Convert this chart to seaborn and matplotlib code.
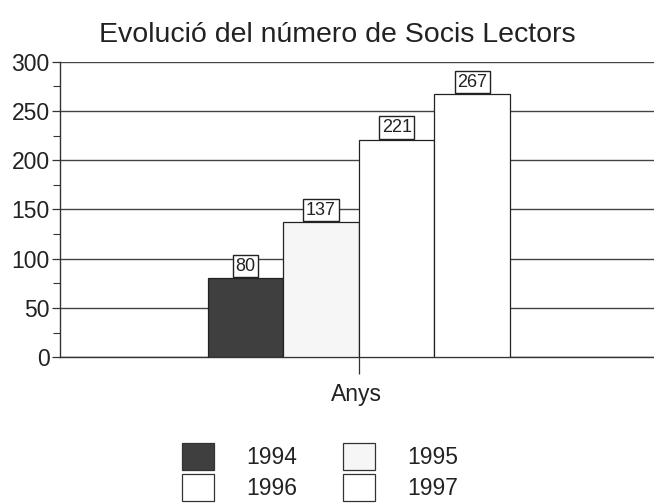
import matplotlib
matplotlib.use("Agg")
import matplotlib.pyplot as plt
import seaborn as sns
import pandas as pd
from matplotlib.ticker import MultipleLocator

# Data
years = ["1994", "1995", "1996", "1997"]
members = [80, 137, 221, 267]
category = ["Anys"] * 4
title = "Evolució del número de Socis Lectors"
xlabel = "Anys"
yticks = [0, 50, 100, 150, 200, 250, 300]

colors = ["#3f3f3f", "#f6f6f6", "#ffffff", "#ffffff"]

df = pd.DataFrame({"cat": category, "year": years, "val": members})

sns.set_theme(style="white")
plt.rcParams["font.family"] = ["Liberation Sans", "DejaVu Sans"]

fig = plt.figure(figsize=(6.54, 5.03), dpi=100)
ax = fig.add_axes([0.091, 0.290, 0.909, 0.587])

sns.barplot(data=df, x="cat", y="val", hue="year", palette=colors,
            edgecolor="#222222", linewidth=0.9, ax=ax, legend=True,
            saturation=1, width=0.8, zorder=3)

ax.set_ylim(0, 300)
ax.set_xlim(-0.792, 0.781)
ax.set_yticks(yticks)
ax.yaxis.set_minor_locator(MultipleLocator(25))
ax.tick_params(axis="y", which="major", length=6, width=0.9, color="#333333",
               labelsize=16.5, labelcolor="#222222", left=True, pad=1)
ax.tick_params(axis="y", which="minor", length=5, width=0.8, color="#333333", left=True)
ax.set_xticks([0])
ax.set_xticklabels([""])
ax.tick_params(axis="x", length=12, width=0.9, color="#333333", bottom=True, direction="out")

for y in yticks:
    ax.axhline(y, color="#444444", lw=1.0, zorder=1)

for s in ["top", "right"]:
    ax.spines[s].set_visible(False)
for s in ["left", "bottom"]:
    ax.spines[s].set_color("#333333")
    ax.spines[s].set_linewidth(1.0)

for cont in ax.containers:
    for bar, v in zip(cont, cont.datavalues):
        ax.annotate(f"{int(v)}", (bar.get_x() + bar.get_width() / 2, bar.get_height()),
                    xytext=(0, 2.6), textcoords="offset points", ha="center", va="bottom",
                    fontsize=13, color="#222222", zorder=5,
                    bbox=dict(boxstyle="square,pad=0.15", fc="white", ec="#222222", lw=1.0))

ax.set_xlabel(xlabel, fontsize=16.5, color="#222222", labelpad=3)
ax.set_ylabel("")
fig.text(0.516, 1 - 42 / 503, title, ha="center", va="baseline", fontsize=20.5, color="#222222")

leg = ax.get_legend()
handles = leg.legend_handles
leg.remove()
for h in handles:
    h.set_edgecolor("#333333")
    h.set_linewidth(0.9)
order = [0, 2, 1, 3]
fig.legend([handles[i] for i in order], [years[i] for i in order],
           loc="center", bbox_to_anchor=(0.49, 0.062), ncol=2,
           frameon=False, fontsize=16.5, handlelength=1.4, handleheight=1.4,
           handletextpad=1.4, columnspacing=2.0, labelspacing=0.2,
           borderpad=0.0, labelcolor="#222222")

fig.savefig("out.png", dpi=100, facecolor="white")
